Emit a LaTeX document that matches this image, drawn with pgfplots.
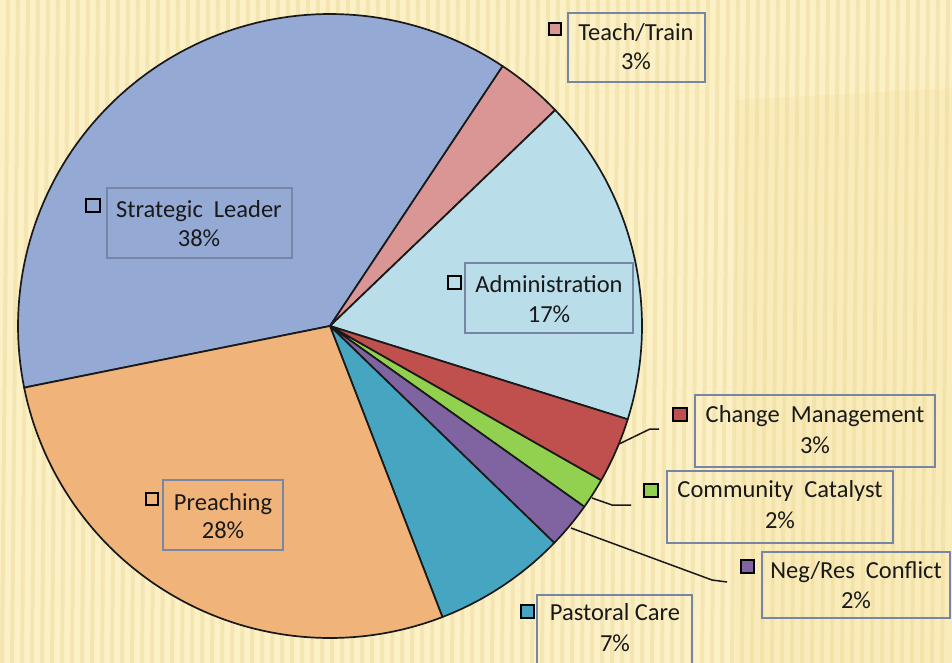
\documentclass[border=0pt]{standalone}
\usepackage{pgfplots}
\pgfplotsset{compat=1.18}
\usepackage{fontspec}
\setmainfont{Carlito}
\definecolor{cSL}{RGB}{149,169,213}
\definecolor{cTT}{RGB}{217,150,148}
\definecolor{cAD}{RGB}{185,222,233}
\definecolor{cCM}{RGB}{192,80,77}
\definecolor{cCC}{RGB}{146,208,80}
\definecolor{cNR}{RGB}{128,100,162}
\definecolor{cPC}{RGB}{70,166,194}
\definecolor{cPR}{RGB}{240,180,122}
\definecolor{bgBase}{RGB}{250,236,186}
\definecolor{bgLight}{RGB}{254,245,210}
\definecolor{bgStripe}{RGB}{238,220,160}
\definecolor{boxc}{RGB}{118,134,164}
\definecolor{txt}{RGB}{25,25,25}
\definecolor{edge}{RGB}{25,25,25}
\tikzset{
  lab/.style={font=\fontsize{24.5}{30}\selectfont, text=txt, anchor=base, inner sep=0pt},
  lbox/.style={draw=boxc, line width=1.5pt},
  key/.style={draw=black, line width=1.6pt},
  lead/.style={draw=edge, line width=1.5pt},
}
\pgfplotsset{
  slice/.style={draw=edge, line width=1.7pt, line join=round, domain=#1, samples=90},
}
% slice values (percent), clockwise from the start angle
\def\vSL{37.5}% Strategic Leader
\def\vTT{3.5}%  Teach/Train
\def\vAD{17.0}% Administration
\def\vCM{3.4}%  Change Management
\def\vCC{1.6}%  Community Catalyst
\def\vNR{2.4}%  Neg/Res Conflict
\def\vPC{6.9}%  Pastoral Care
\def\vPR{27.7}% Preaching
\pgfmathsetmacro\aO{191.4}
\pgfmathsetmacro\aSL{\aO-3.6*\vSL}
\pgfmathsetmacro\aTT{\aSL-3.6*\vTT}
\pgfmathsetmacro\aAD{\aTT-3.6*\vAD}
\pgfmathsetmacro\aCM{\aAD-3.6*\vCM}
\pgfmathsetmacro\aCC{\aCM-3.6*\vCC}
\pgfmathsetmacro\aNR{\aCC-3.6*\vNR}
\pgfmathsetmacro\aPC{\aNR-3.6*\vPC}
\pgfmathsetmacro\aPR{\aPC-3.6*\vPR}
\begin{document}
\begin{tikzpicture}
\begin{axis}[
  scale only axis, width=952pt, height=663pt,
  xmin=0, xmax=952, ymin=0, ymax=663, y dir=reverse,
  xtick=\empty, ytick=\empty,
  hide axis, clip=false,
]
\coordinate (BL) at (axis cs:0,663);
\coordinate (TR) at (axis cs:952,0);
% background
\fill[bgBase] (axis cs:0,0) rectangle (axis cs:952,663);
\fill[bgLight, opacity=0.55] (axis cs:0,0) -- (axis cs:952,0) -- (axis cs:952,88) -- (axis cs:735,100) -- (axis cs:735,663) -- (axis cs:0,663) -- cycle;
\pgfplotsinvokeforeach{0,...,94}{
  \draw[bgStripe, opacity=0.55, line width=4pt] (axis cs:{#1*10+8},0) -- (axis cs:{#1*10+2},663);
}
\addplot[slice={\aSL:\aO}, fill=cSL] ({330+312*cos(x)},{326-312*sin(x)}) -- (axis cs:330,326) -- cycle;
\addplot[slice={\aTT:\aSL}, fill=cTT] ({330+312*cos(x)},{326-312*sin(x)}) -- (axis cs:330,326) -- cycle;
\addplot[slice={\aAD:\aTT}, fill=cAD] ({330+312*cos(x)},{326-312*sin(x)}) -- (axis cs:330,326) -- cycle;
\addplot[slice={\aCM:\aAD}, fill=cCM] ({330+312*cos(x)},{326-312*sin(x)}) -- (axis cs:330,326) -- cycle;
\addplot[slice={\aCC:\aCM}, fill=cCC] ({330+312*cos(x)},{326-312*sin(x)}) -- (axis cs:330,326) -- cycle;
\addplot[slice={\aNR:\aCC}, fill=cNR] ({330+312*cos(x)},{326-312*sin(x)}) -- (axis cs:330,326) -- cycle;
\addplot[slice={\aPC:\aNR}, fill=cPC] ({330+312*cos(x)},{326-312*sin(x)}) -- (axis cs:330,326) -- cycle;
\addplot[slice={\aPR:\aPC}, fill=cPR] ({330+312*cos(x)},{326-312*sin(x)}) -- (axis cs:330,326) -- cycle;
% leader lines
\draw[lead] (axis cs:619,444) -- (axis cs:650,429) -- (axis cs:659,429);
\draw[lead] (axis cs:592,498) -- (axis cs:612,505) -- (axis cs:631,505);
\draw[lead] (axis cs:571,528) -- (axis cs:712,580) -- (axis cs:727,582);
% Teach/Train
\draw[lbox] (axis cs:568,13) rectangle (axis cs:705,82);
\draw[key, fill=cTT] (axis cs:549,23) rectangle (axis cs:561,35);
\node[lab] at (axis cs:636,41) {Teach/Train};
\node[lab] at (axis cs:636,70) {3\%};
% Strategic Leader
\draw[lbox] (axis cs:107,188) rectangle (axis cs:292,258);
\draw[key, fill=cSL] (axis cs:86,199) rectangle (axis cs:100,212);
\node[lab] at (axis cs:199,217) {Strategic\ \ Leader};
\node[lab] at (axis cs:199,246) {38\%};
% Administration
\draw[lbox] (axis cs:465,263) rectangle (axis cs:633,333);
\draw[key, fill=cAD] (axis cs:448,276) rectangle (axis cs:461,289);
\node[lab] at (axis cs:549,292) {Administration};
\node[lab] at (axis cs:549,322) {17\%};
% Preaching
\draw[lbox] (axis cs:163,480) rectangle (axis cs:283,550);
\draw[key, fill=cPR] (axis cs:146,493) rectangle (axis cs:158,505);
\node[lab] at (axis cs:223,510) {Preaching};
\node[lab] at (axis cs:223,538) {28\%};
% Change Management
\draw[lbox] (axis cs:695,395) rectangle (axis cs:935,467);
\draw[key, fill=cCM] (axis cs:673,408) rectangle (axis cs:687,421);
\node[lab] at (axis cs:815,422) {Change\ \ Management};
\node[lab] at (axis cs:815,453) {3\%};
% Community Catalyst
\draw[lbox] (axis cs:667,471) rectangle (axis cs:893,543);
\draw[key, fill=cCC] (axis cs:644,484) rectangle (axis cs:658,497);
\node[lab] at (axis cs:780,497) {Community\ \ Catalyst};
\node[lab] at (axis cs:780,528) {2\%};
% Neg/Res Conflict
\draw[lbox] (axis cs:762,552) rectangle (axis cs:950,618);
\draw[key, fill=cNR] (axis cs:741,560) rectangle (axis cs:754,573);
\node[lab] at (axis cs:856,578) {Neg/Res\ \ Conflict};
\node[lab] at (axis cs:856,608) {2\%};
% Pastoral Care
\draw[lbox] (axis cs:537,663) -- (axis cs:537,595) -- (axis cs:692,595) -- (axis cs:692,663);
\draw[key, fill=cPC] (axis cs:521,605) rectangle (axis cs:534,618);
\node[lab] at (axis cs:615,620) {Pastoral Care};
\node[lab] at (axis cs:615,651) {7\%};
\end{axis}
\pgfresetboundingbox
\path[use as bounding box] (BL) rectangle (TR);
\end{tikzpicture}
\end{document}
